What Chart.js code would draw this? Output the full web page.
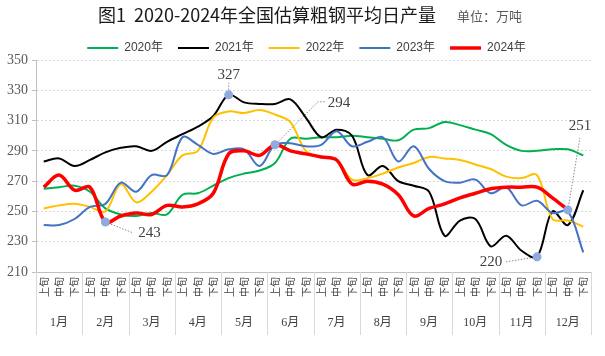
<!DOCTYPE html>
<html><head><meta charset="utf-8">
<script src="https://cdn.jsdelivr.net/npm/chart.js@4.4.1/dist/chart.umd.min.js"></script>
<style>html,body{margin:0;padding:0;background:#fff}#wrap{width:605px;height:356px}</style>
</head><body><div id="wrap"><canvas id="c" width="605" height="356"></canvas></div>
<script>
const titleText = '图1  2020-2024年全国估算粗钢平均日产量';
const unitText = '单位：万吨';
const months = ['1月','2月','3月','4月','5月','6月','7月','8月','9月','10月','11月','12月'];
const dekads = ['上旬','中旬','下旬'];
const categories = months.flatMap(() => dekads);
const seriesNames = ['2020年','2021年','2022年','2023年','2024年'];
const y2020 = [265,266,267,263,252,248,247,249,248,261,262,267,272,275,277,282,298,298,299,299,300,299,298,297,304,305,309,307,304,301,294,290,290,291,291,287];
const y2021 = [283,285,280,284,289,292,293,290,296,301,306,313,327,322,321,321,324,312,299,304,300,274,280,270,267,263,234,244,245,227,234,224,220,250,241,264];
const y2022 = [252,254,255,253,250,268,256,263,274,287,290,312,316,315,317,314,309,290,286,284,271,272,275,279,282,286,285,284,281,278,273,272,274,245,244,240];
const y2023 = [241,241,245,253,255,269,263,274,274,299,294,288,291,291,280,294,295,293,294,303,293,296,299,283,293,278,270,269,271,262,266,254,257,249,250,223];
const y2024 = [266,274,264,266,243,247,249,248,254,253,255,262,288,290,287,294,290,288,286,284,268,270,268,261,247,252,255,259,262,265,266,266,266,259,251];
const yMin = 210, yMax = 350, yStep = 20;
// highlighted points: [series index, category index]
const highlights = [[4,4],[1,12],[4,15],[1,32],[4,34]];

const colors = ['#00b050','#000000','#ffc000','#4472c4','#ff0000'];
const widths = [2,2,2,2,3.5];
const allData = [y2020,y2021,y2022,y2023,y2024];

// leader/label styling per highlight (relative offsets, pixels)
const hlStyle = [
  {path:[[0,0],[28,11]], label:[44,11]},
  {path:[[0,-5],[0,-12]], label:[0,-20]},
  {path:[[0,0],[43,-43],[50,-43]], label:[64,-42]},
  {path:[[0,0],[-31,5]], label:[-46,5]},
  {path:[[0,0],[12,-72]], label:[12,-84]}
];

const isHL = (ds, i) => highlights.some(h => h[0] === ds && h[1] === i);

const datasets = allData.map((d, k) => ({
  label: seriesNames[k],
  data: d,
  borderColor: colors[k],
  backgroundColor: colors[k],
  borderWidth: widths[k],
  tension: 0.35,
  order: 4 - k,
  pointRadius: ctx => isHL(k, ctx.dataIndex) ? 4.5 : 0,
  pointHoverRadius: 0,
  pointBackgroundColor: '#8faadc',
  pointBorderWidth: 0,
  fill: false
}));

const titlePlugin = {
  id: 'titles',
  afterLayout(chart) {
    // nudge legend so its items are centred like the original
    const lg = chart.legend;
    if (lg) { lg.left += 11; lg.right += 11; }
  },
  afterDraw(chart) {
    const ctx = chart.ctx;
    ctx.save();
    ctx.textBaseline = 'middle';
    ctx.font = "18px 'Noto Sans CJK SC', sans-serif";
    ctx.fillStyle = '#1a1a1a';
    const w = ctx.measureText(titleText).width;
    ctx.textAlign = 'left';
    ctx.fillText(titleText, 267 - w / 2, 15);
    ctx.font = "13px 'Noto Sans CJK SC', sans-serif";
    ctx.fillStyle = '#595959';
    ctx.fillText(unitText, 457, 16);
    ctx.restore();
  }
};

const monthPlugin = {
  id: 'months',
  afterDraw(chart) {
    const ctx = chart.ctx, xs = chart.scales.x, area = chart.chartArea;
    ctx.save();
    ctx.strokeStyle = '#d9d9d9';
    ctx.lineWidth = 1;
    for (let m = 0; m <= 12; m++) {
      let x;
      if (m === 0) x = area.left;
      else if (m === 12) x = area.right;
      else x = (xs.getPixelForValue(3 * m - 1) + xs.getPixelForValue(3 * m)) / 2;
      x = Math.round(x) + 0.5;
      ctx.beginPath();
      ctx.moveTo(x, area.bottom);
      ctx.lineTo(x, area.bottom + 63);
      ctx.stroke();
    }
    ctx.fillStyle = '#404040';
    ctx.font = "12px 'Liberation Serif', 'Noto Sans CJK SC', serif";
    ctx.textAlign = 'center';
    ctx.textBaseline = 'middle';
    for (let m = 0; m < 12; m++) {
      ctx.fillText(months[m], xs.getPixelForValue(3 * m + 1), area.bottom + 51);
    }
    ctx.restore();
  }
};

const hlPlugin = {
  id: 'highlights',
  beforeDatasetsDraw(chart) {
    const ctx = chart.ctx;
    ctx.save();
    ctx.strokeStyle = '#8c8c8c';
    ctx.lineWidth = 1;
    ctx.setLineDash([1.5, 1.5]);
    highlights.forEach((h, j) => {
      const p = chart.getDatasetMeta(h[0]).data[h[1]];
      const st = hlStyle[j];
      ctx.beginPath();
      st.path.forEach((q, n) => {
        if (n === 0) ctx.moveTo(p.x + q[0], p.y + q[1]);
        else ctx.lineTo(p.x + q[0], p.y + q[1]);
      });
      ctx.stroke();
    });
    ctx.restore();
  },
  afterDatasetsDraw(chart) {
    const ctx = chart.ctx;
    ctx.save();
    ctx.fillStyle = '#404040';
    ctx.font = "15px 'Liberation Serif', serif";
    ctx.textAlign = 'center';
    ctx.textBaseline = 'middle';
    highlights.forEach((h, j) => {
      const p = chart.getDatasetMeta(h[0]).data[h[1]];
      const st = hlStyle[j];
      ctx.fillText(String(allData[h[0]][h[1]]), p.x + st.label[0], p.y + st.label[1]);
    });
    ctx.restore();
  }
};

new Chart(document.getElementById('c'), {
  type: 'line',
  data: { labels: categories, datasets },
  plugins: [titlePlugin, monthPlugin, hlPlugin],
  options: {
    responsive: false,
    devicePixelRatio: 1,
    animation: false,
    layout: { padding: { top: 27, left: 0, right: 14, bottom: 0 } },
    plugins: {
      title: { display: false },
      tooltip: { enabled: false },
      legend: {
        display: true,
        position: 'top',
        maxHeight: 33,
        labels: {
          usePointStyle: true,
          pointStyle: 'line',
          pointStyleWidth: 31,
          boxHeight: 12,
          padding: 15,
          color: '#404040',
          font: { family: "'Liberation Sans', 'Noto Sans CJK SC', sans-serif", size: 12 },
          sort: (a, b) => a.datasetIndex - b.datasetIndex,
          generateLabels: (chart) => Chart.defaults.plugins.legend.labels.generateLabels(chart).map(l => Object.assign(l, {
            lineWidth: widths[l.datasetIndex],
            strokeStyle: colors[l.datasetIndex],
            fillStyle: colors[l.datasetIndex],
            pointStyle: 'line'
          }))
        }
      }
    },
    scales: {
      x: {
        type: 'category',
        offset: true,
        grid: { display: false, drawTicks: false },
        border: { display: true, color: '#bfbfbf', width: 1 },
        ticks: {
          autoSkip: false,
          minRotation: 90,
          maxRotation: 90,
          padding: 5,
          color: '#404040',
          font: { family: "'Noto Sans CJK SC', sans-serif", size: 10 }
        },
        afterFit(scale) { scale.height = 84; }
      },
      y: {
        min: yMin,
        max: yMax,
        ticks: {
          stepSize: yStep,
          padding: 4,
          color: '#595959',
          font: { family: "'Liberation Serif', serif", size: 14 }
        },
        grid: { color: '#d9d9d9', drawTicks: true, tickLength: 4, tickColor: '#bfbfbf' },
        border: { display: true, color: '#bfbfbf', width: 1, dash: [2, 2] },
        afterFit(scale) { scale.width = 36; }
      }
    }
  }
});
</script>
</body></html>
